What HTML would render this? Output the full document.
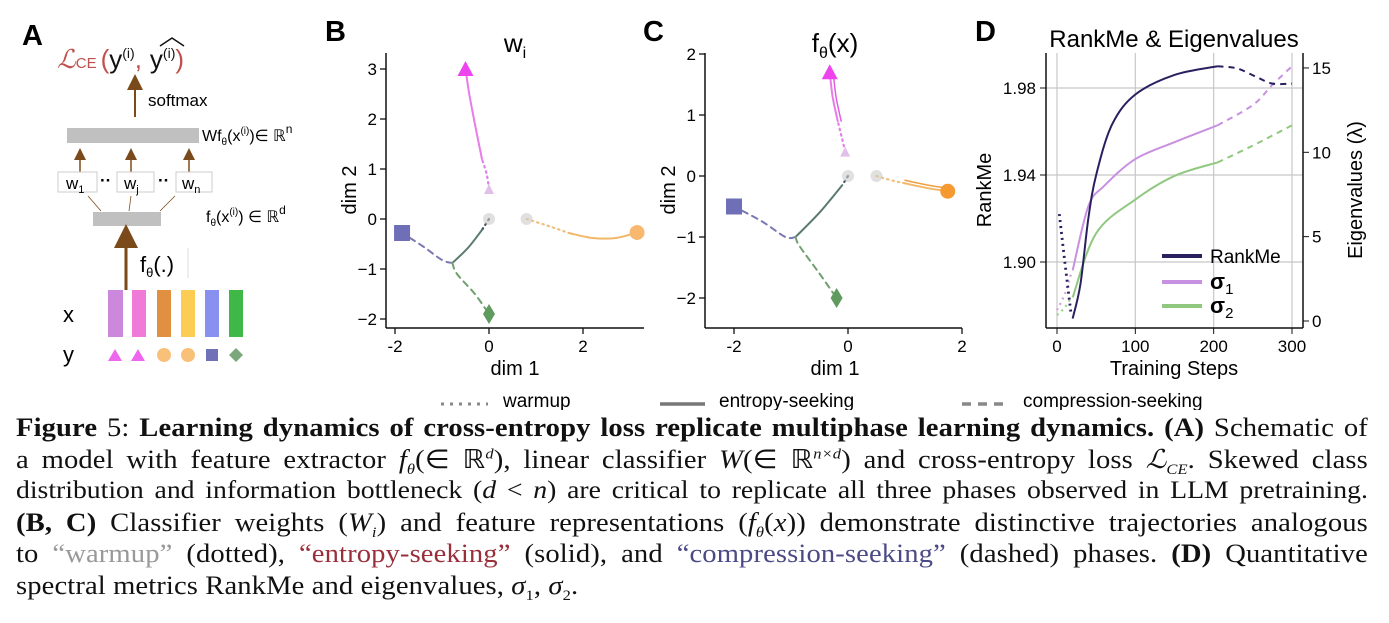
<!DOCTYPE html>
<html><head><meta charset="utf-8">
<style>
body{margin:0;background:#fff;width:1389px;height:623px;overflow:hidden;position:relative;font-family:"Liberation Sans",sans-serif}
#fig{position:absolute;left:0;top:0}
.cap{position:absolute;left:16px;width:1229px;height:32px;overflow:hidden;font-family:"Liberation Serif",serif;font-size:26px;letter-spacing:0.1px;line-height:31.7px;white-space:nowrap;color:#111;transform:scaleX(1.1);transform-origin:0 0}
.j{text-align:justify;text-align-last:justify;white-space:normal}
.cap sub,.cap sup{line-height:0;font-size:15px}
i{font-style:italic}
</style></head><body>
<svg id="fig" width="1389" height="410" xmlns="http://www.w3.org/2000/svg" font-family="Liberation Sans, sans-serif">
<defs><marker id="ah" markerWidth="8" markerHeight="8" refX="4" refY="4" orient="auto"><path d="M0,0 L8,4 L0,8 z" fill="#7a4a1a"/></marker></defs>
<g>
<text x="22" y="45" font-size="29" font-weight="bold">A</text>
<text x="57" y="68" font-size="26" fill="#c0504d"><tspan font-family="Liberation Serif, serif" font-style="italic">ℒ</tspan><tspan font-size="15">CE</tspan><tspan dx="4">(</tspan><tspan fill="#111">y</tspan><tspan fill="#111" font-size="14" dy="-10">(i)</tspan><tspan dy="10">,</tspan><tspan fill="#111" dx="8">y</tspan><tspan fill="#111" font-size="14" dy="-10">(i)</tspan><tspan dy="10">)</tspan></text>
<path d="M160,46 L172,38 L184,46" stroke="#111" fill="none" stroke-width="1.5"/>
<line x1="135" y1="117" x2="135" y2="82" stroke="#7a4a1a" stroke-width="2" marker-end="url(#ah)"/>
<text x="148" y="106" font-size="17">softmax</text>
<rect x="67" y="128" width="132" height="15" fill="#c0c0c0"/>
<text x="202" y="141" font-size="16">Wf<tspan font-size="10" dy="4">θ</tspan><tspan dy="-4">(x</tspan><tspan font-size="10" dy="-7">(i)</tspan><tspan dy="7">)∈ ℝ</tspan><tspan font-size="12" dy="-8">n</tspan></text>
<g stroke="#7a4a1a" stroke-width="1.5"><line x1="80" y1="172" x2="80" y2="154" marker-end="url(#ah)"/><line x1="131" y1="172" x2="131" y2="154" marker-end="url(#ah)"/><line x1="189" y1="172" x2="189" y2="154" marker-end="url(#ah)"/></g>
<g fill="#fff" stroke="#ccc" stroke-width="1"><rect x="58" y="172" width="39" height="20"/><rect x="117" y="172" width="37" height="20"/><rect x="176" y="172" width="36" height="20"/></g>
<text x="66" y="189" font-size="17">w<tspan font-size="11" dy="4">1</tspan></text>
<text x="124" y="189" font-size="17">w<tspan font-size="11" dy="4">j</tspan></text>
<text x="182" y="189" font-size="17">w<tspan font-size="11" dy="4">n</tspan></text>
<text x="100" y="186" font-size="17" font-weight="bold">··</text><text x="158" y="186" font-size="17" font-weight="bold">··</text>
<g stroke="#7a4a1a" stroke-width="0.8"><line x1="88" y1="196" x2="101" y2="211"/><line x1="131" y1="196" x2="129" y2="211"/><line x1="175" y1="196" x2="160" y2="211"/></g>
<rect x="93" y="212" width="68" height="14" fill="#c0c0c0"/>
<text x="206" y="222" font-size="16">f<tspan font-size="10" dy="4">θ</tspan><tspan dy="-4">(x</tspan><tspan font-size="10" dy="-7">(i)</tspan><tspan dy="7">) ∈ ℝ</tspan><tspan font-size="12" dy="-8">d</tspan></text>
<line x1="126" y1="290" x2="126" y2="236" stroke="#7a4a1a" stroke-width="3" marker-end="url(#ah)"/>
<text x="140" y="272" font-size="22">f<tspan font-size="13" dy="5">θ</tspan><tspan dy="-5">(.)</tspan></text>
<line x1="188" y1="248" x2="188" y2="278" stroke="#ddd"/>
<text x="63" y="322" font-size="22">x</text>
<text x="63" y="362" font-size="22">y</text>
<rect x="108" y="290" width="15" height="47" fill="#cc88dd"/><rect x="132" y="290" width="14" height="47" fill="#f07ad8"/><rect x="157" y="290" width="14" height="47" fill="#e09040"/><rect x="181" y="290" width="14" height="47" fill="#fccc55"/><rect x="205" y="290" width="14" height="47" fill="#8890f0"/><rect x="229" y="290" width="14" height="47" fill="#40b848"/>
<polygon points="108,361 115,349 122,361" fill="#ee66ee"/><polygon points="131,361 138,349 145,361" fill="#ee66ee"/>
<circle cx="164" cy="355" r="7" fill="#f8c078"/><circle cx="188" cy="355" r="7" fill="#f8c078"/>
<rect x="206" y="349" width="12" height="12" fill="#7070b8"/><polygon points="236,348 243,355 236,362 229,355" fill="#7aa87a"/>
</g>
<text x="325" y="41" font-size="29" font-weight="bold">B</text>
<text x="643" y="41" font-size="29" font-weight="bold">C</text>
<text x="975" y="41" font-size="29" font-weight="bold">D</text>
<text x="515" y="52" font-size="26" text-anchor="middle">w<tspan font-size="16" dy="6">i</tspan></text>
<text x="835" y="52" font-size="26" text-anchor="middle">f<tspan font-size="16" dy="6">θ</tspan><tspan dy="-6">(x)</tspan></text>
<text x="1174" y="47" font-size="24" text-anchor="middle">RankMe &amp; Eigenvalues</text>
<g id="B"></g><g id="C"></g><g id="D"></g>
<g>
<line x1="441" y1="404" x2="488" y2="404" stroke="#888" stroke-width="3" stroke-dasharray="3,6"/>
<text x="503" y="407" font-size="19">warmup</text>
<line x1="660" y1="404" x2="705" y2="404" stroke="#777" stroke-width="3.5"/>
<text x="719" y="407" font-size="19">entropy-seeking</text>
<line x1="962" y1="404" x2="1008" y2="404" stroke="#888" stroke-width="3.5" stroke-dasharray="9,7"/>
<text x="1023" y="407" font-size="19">compression-seeking</text>
</g>
</svg>
<div class="cap j" style="top:412px"><b>Figure</b> 5: <b>Learning dynamics of cross-entropy loss replicate multiphase learning dynamics. (A)</b> Schematic of</div>
<div class="cap j" style="top:444px">a model with feature extractor <i>f</i><sub><i>θ</i></sub>(∈ ℝ<sup><i>d</i></sup>), linear classifier <i>W</i>(∈ ℝ<sup><i>n×d</i></sup>) and cross-entropy loss <i>ℒ</i><sub><i>CE</i></sub>. Skewed class</div>
<div class="cap j" style="top:475px;font-size:25.2px;letter-spacing:0">distribution and information bottleneck (<i>d</i> &lt; <i>n</i>) are critical to replicate all three phases observed in LLM pretraining.</div>
<div class="cap j" style="top:507px"><b>(B, C)</b> Classifier weights (<i>W<sub>i</sub></i>) and feature representations (<i>f<sub>θ</sub></i>(<i>x</i>)) demonstrate distinctive trajectories analogous</div>
<div class="cap j" style="top:538px">to <span style="color:#999">“warmup”</span> (dotted), <span style="color:#9a2f3c">“entropy-seeking”</span> (solid), and <span style="color:#4b4a86">“compression-seeking”</span> (dashed) phases. <b>(D)</b> Quantitative</div>
<div class="cap" style="top:570px">spectral metrics RankMe and eigenvalues, <i>σ</i><sub>1</sub>, <i>σ</i><sub>2</sub>.</div>
<script>
const bPinkWarm=[[0,0.6],[-0.05,0.9],[-0.15,1.2]];
const bPinkEnt=[[-0.15,1.2],[-0.3,1.9],[-0.42,2.5],[-0.5,3.0]];
const bSharedWarm=[[0,0],[-0.15,-0.22]];
const bSharedEnt=[[-0.15,-0.22],[-0.45,-0.58],[-0.78,-0.88]];
const bBlueComp=[[-0.78,-0.88],[-1.0,-0.82],[-1.4,-0.55],[-1.85,-0.28]];
const bGreenComp=[[-0.78,-0.88],[-0.68,-1.1],[-0.3,-1.5],[0,-1.9]];
const bOrangeWarm=[[0.8,0],[1.3,-0.15],[1.7,-0.28]];
const bOrangeEnt=[[1.7,-0.28],[2.2,-0.38],[2.7,-0.38],[3.15,-0.27]];
const bTicksX=[-2,0,2], bTicksY=[-2,-1,0,1,2,3];
const cPinkWarm=[[-0.05,0.4],[-0.1,0.6],[-0.18,0.9]];
const cPinkEnt=[[-0.18,0.9],[-0.27,1.3],[-0.32,1.7]];
const cSharedWarm=[[0,0],[-0.1,-0.15]];
const cSharedEnt=[[-0.1,-0.15],[-0.5,-0.6],[-0.92,-1.0]];
const cBlueComp=[[-0.92,-1.0],[-1.1,-1.0],[-1.5,-0.75],[-2.0,-0.5]];
const cGreenComp=[[-0.92,-1.0],[-0.85,-1.15],[-0.5,-1.6],[-0.2,-2.0]];
const cOrangeWarm=[[0.5,0],[0.8,-0.08],[1.0,-0.12]];
const cOrangeEnt=[[1.0,-0.12],[1.4,-0.2],[1.75,-0.25]];
const cTicksX=[-2,0,2], cTicksY=[-2,-1,0,1,2];
const steps=[0,100,200,300];
const rmWarmX=[3,10,18], rmWarmY=[1.922,1.90,1.876];
const rmEntX=[20,30,40,50,70,100,150,205], rmEntY=[1.874,1.89,1.92,1.94,1.963,1.977,1.986,1.99];
const rmCompX=[205,230,255,275,300], rmCompY=[1.99,1.989,1.985,1.982,1.982];
const s1WarmX=[0,10,18], s1WarmY=[0.65,1.6,2.8];
const s1EntX=[20,40,60,100,150,205], s1EntY=[3.0,6.8,8.0,9.6,10.6,11.6];
const s1CompX=[205,250,275,300], s1CompY=[11.6,12.8,14.0,15.1];
const s2WarmX=[0,10,18], s2WarmY=[0.35,0.8,1.4];
const s2EntX=[20,50,100,150,205], s2EntY=[1.4,5.2,7.2,8.6,9.4];
const s2CompX=[205,250,300], s2CompY=[9.4,10.4,11.6];
const rmTicks=[1.90,1.94,1.98], eigTicks=[0,5,10,15];

const NS='http://www.w3.org/2000/svg';
function mk(p,tag,at){const e=document.createElementNS(NS,tag);for(const k in at)e.setAttribute(k,at[k]);p.appendChild(e);return e;}
function smooth(pts){
  if(pts.length<3){return 'M'+pts.map(p=>p.join(',')).join(' L');}
  let d='M'+pts[0][0]+','+pts[0][1];
  for(let i=0;i<pts.length-1;i++){const p0=pts[i-1]||pts[i],p1=pts[i],p2=pts[i+1],p3=pts[i+2]||p2;
    d+=' C'+(p1[0]+(p2[0]-p0[0])/6)+','+(p1[1]+(p2[1]-p0[1])/6)+' '+(p2[0]-(p3[0]-p1[0])/6)+','+(p2[1]-(p3[1]-p1[1])/6)+' '+p2[0]+','+p2[1];}
  return d;}
function scatterPanel(g,ax,d){
  const X=v=>ax.x0+v*ax.kx, Y=v=>ax.y0-v*ax.ky;
  mk(g,'line',{x1:ax.L,y1:53,x2:ax.L,y2:328,stroke:'#111','stroke-width':1.5});
  mk(g,'line',{x1:ax.L,y1:328,x2:ax.R,y2:328,stroke:'#111','stroke-width':1.5});
  d.tx.forEach(t=>{mk(g,'line',{x1:X(t),y1:328,x2:X(t),y2:334,stroke:'#111','stroke-width':1.3});const e=mk(g,'text',{x:X(t),y:352,'font-size':17,'text-anchor':'middle'});e.textContent=t<0?'-'+(-t):t;});
  d.ty.forEach(t=>{mk(g,'line',{x1:ax.L-6,y1:Y(t),x2:ax.L,y2:Y(t),stroke:'#111','stroke-width':1.3});const e=mk(g,'text',{x:ax.L-9,y:Y(t)+6,'font-size':17,'text-anchor':'end'});e.textContent=t<0?'−'+(-t):t;});
  const xl=mk(g,'text',{x:ax.cx,y:375,'font-size':20,'text-anchor':'middle'});xl.textContent='dim 1';
  
  
  const yl=mk(g,'text',{x:0,y:0,'font-size':20,'text-anchor':'middle',transform:'translate('+(ax.L-30)+',190) rotate(-90)'});yl.textContent='dim 2';
  
  
  const P=a=>a.map(p=>[X(p[0]),Y(p[1])]);
  const line=(a,col,dash,w,nm)=>{const e=mk(g,'path',{d:smooth(P(a)),fill:'none',stroke:col,'stroke-width':w,'stroke-dasharray':dash,'stroke-linecap':'round'});
    
    };
  line(d.pw,'#e080e8','1.5,4',2.2,'pink-warmup');
  line(d.pe,'#e87ce8','',2,'pink-entropy');
  if(d.pe2){line(d.pe2,'#e060e0','',1.5,'pink-entropy-2');}
  line(d.sw,'#405060','1.5,4',2.2,'shared-warmup');
  line(d.se,'#5a7a70','',2,'shared-entropy');
  line(d.bc,'#7a78b0','6,5',2,'blue-compression');
  line(d.gc,'#70a070','6,5',2,'green-compression');
  line(d.ow,'#f0c080','1.5,4',2.2,'orange-warmup');
  line(d.oe,'#f2b868','',2,'orange-entropy');
  if(d.oe2){line(d.oe2,'#f0a040','',1.5,'orange-entropy-2');}
  const gs=[d.sw[0],d.ow[0]];
  gs.forEach(p=>{const c=mk(g,'circle',{cx:X(p[0]),cy:Y(p[1]),r:6,fill:'#ccc',opacity:0.6});});
  const pt=d.pw[0];mk(g,'polygon',{points:`${X(pt[0])-5},${Y(pt[1])+5} ${X(pt[0])},${Y(pt[1])-5} ${X(pt[0])+5},${Y(pt[1])+5}`,fill:'#e0c0e8'});
  let t=d.pe[d.pe.length-1];const tri=mk(g,'polygon',{points:`${X(t[0])-8},${Y(t[1])+7} ${X(t[0])},${Y(t[1])-8} ${X(t[0])+8},${Y(t[1])+7}`,fill:'#ee44ee'});
  
  
  t=d.bc[d.bc.length-1];const sq=mk(g,'rect',{x:X(t[0])-8,y:Y(t[1])-8,width:16,height:16,fill:'#6f6fb8'});
  
  
  t=d.gc[d.gc.length-1];const dm=mk(g,'polygon',{points:`${X(t[0])},${Y(t[1])-10} ${X(t[0])+6},${Y(t[1])} ${X(t[0])},${Y(t[1])+10} ${X(t[0])-6},${Y(t[1])}`,fill:'#5f9a5f'});
  
  
  t=d.oe[d.oe.length-1];const ci=mk(g,'circle',{cx:X(t[0]),cy:Y(t[1]),r:7.5,fill:d.oc});
  
  
}
const gB=document.getElementById('B');


scatterPanel(gB,{L:386,R:644,x0:489,kx:47,y0:219,ky:50,cx:515},{tx:bTicksX,ty:bTicksY,pw:bPinkWarm,pe:bPinkEnt,sw:bSharedWarm,se:bSharedEnt,bc:bBlueComp,gc:bGreenComp,ow:bOrangeWarm,oe:bOrangeEnt,oc:'#f8b870'});
const gC=document.getElementById('C');


scatterPanel(gC,{L:705,R:962,x0:848,kx:57,y0:176,ky:61,cx:835},{tx:cTicksX,ty:cTicksY,pw:cPinkWarm,pe:cPinkEnt,pe2:cPinkEnt.map(p=>[p[0]+0.06,p[1]]),sw:cSharedWarm,se:cSharedEnt,bc:cBlueComp,gc:cGreenComp,ow:cOrangeWarm,oe:cOrangeEnt,oe2:cOrangeEnt.map(p=>[p[0],p[1]+0.05]),oc:'#f59a30'});

const gD=document.getElementById('D');


const DX=s=>1057+s*0.7833, DL=v=>88+(1.98-v)*2175, DR=e=>321-e*16.87;
steps.forEach(s=>mk(gD,'line',{x1:DX(s),y1:53,x2:DX(s),y2:328,stroke:'#c8c8c8','stroke-width':1.2}));
rmTicks.forEach(v=>mk(gD,'line',{x1:1046,y1:DL(v),x2:1303,y2:DL(v),stroke:'#c8c8c8','stroke-width':1.2}));
mk(gD,'line',{x1:1046,y1:53,x2:1046,y2:328,stroke:'#111','stroke-width':1.5});
mk(gD,'line',{x1:1303,y1:53,x2:1303,y2:328,stroke:'#111','stroke-width':1.5});
mk(gD,'line',{x1:1046,y1:328,x2:1303,y2:328,stroke:'#111','stroke-width':1.5});
steps.forEach(s=>{mk(gD,'line',{x1:DX(s),y1:328,x2:DX(s),y2:334,stroke:'#111'});const e=mk(gD,'text',{x:DX(s),y:352,'font-size':17,'text-anchor':'middle'});e.textContent=s;});
rmTicks.forEach(v=>{mk(gD,'line',{x1:1040,y1:DL(v),x2:1046,y2:DL(v),stroke:'#111'});const e=mk(gD,'text',{x:1036,y:DL(v)+6,'font-size':17,'text-anchor':'end'});e.textContent=v.toFixed(2);});
eigTicks.forEach(v=>{mk(gD,'line',{x1:1303,y1:DR(v),x2:1309,y2:DR(v),stroke:'#111'});const e=mk(gD,'text',{x:1312,y:DR(v)+6,'font-size':17});e.textContent=v;});
{const e=mk(gD,'text',{x:1174,y:375,'font-size':20,'text-anchor':'middle'});e.textContent='Training Steps';

}
{const e=mk(gD,'text',{x:0,y:0,'font-size':20,'text-anchor':'middle',transform:'translate(991,190) rotate(-90)'});e.textContent='RankMe';

}
{const e=mk(gD,'text',{x:0,y:0,'font-size':20,'text-anchor':'middle',transform:'translate(1362,190) rotate(-90)'});e.textContent='Eigenvalues (λ)';

}
function dline(xs,ys,f,col,dash,w,nm){const pts=xs.map((x,i)=>[DX(x),f(ys[i])]);const e=mk(gD,'path',{d:smooth(pts),fill:'none',stroke:col,'stroke-width':w,'stroke-dasharray':dash});
  
  }
dline(s2WarmX,s2WarmY,DR,'#a0d090','2,4',2.2,'sigma2-warmup');
dline(s2EntX,s2EntY,DR,'#90c880','',2,'sigma2-entropy');
dline(s2CompX,s2CompY,DR,'#90c880','6,5',2,'sigma2-compression');
dline(s1WarmX,s1WarmY,DR,'#d0a0e0','2,4',2.2,'sigma1-warmup');
dline(s1EntX,s1EntY,DR,'#c890e0','',2,'sigma1-entropy');
dline(s1CompX,s1CompY,DR,'#c890e0','6,5',2,'sigma1-compression');
dline(rmWarmX,rmWarmY,DL,'#2a2060','2,4',2.8,'rankme-warmup');
dline(rmEntX,rmEntY,DL,'#2a2060','',2,'rankme-entropy');
dline(rmCompX,rmCompY,DL,'#2a2060','6,5',2,'rankme-compression');
const legNames=['RankMe','σ','σ'], legSubs=['','1','2'], legCols=['#2a2060','#c890e0','#90c880'], legY=[256,282,306];
legNames.forEach((n,i)=>{const l=mk(gD,'line',{x1:1162,y1:legY[i],x2:1202,y2:legY[i],stroke:legCols[i],'stroke-width':4});
  
  
  const t=mk(gD,'text',{x:1210,y:legY[i]+7,'font-size':i?22:19,'font-weight':i?'bold':'normal'});t.textContent=n;
  
  
  if(legSubs[i]){const s=mk(t,'tspan',{'font-size':15,'font-weight':'normal',dy:5});s.textContent=legSubs[i];}});
</script>
</body></html>
